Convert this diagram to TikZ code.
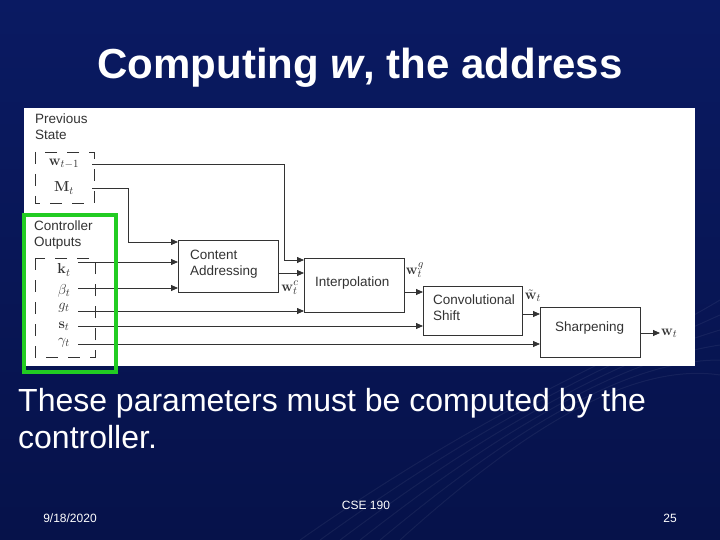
\documentclass[tikz,border=0pt]{standalone}
\usepackage[no-math]{fontspec}
\setmainfont{Liberation Sans}
\usetikzlibrary{arrows.meta}
\definecolor{navy}{HTML}{0A1A62}
\definecolor{navyd}{HTML}{06124A}
\definecolor{grn}{HTML}{22CC22}
\definecolor{ln}{HTML}{333333}
\begin{document}
\begin{tikzpicture}[x=1pt,y=-1pt,
  blk/.style={draw=ln,line width=0.9pt,fill=white,anchor=north west,inner sep=0pt},
  lbl/.style={font=\fontsize{13.5}{16}\selectfont,text=ln,align=left,anchor=west,inner sep=0pt},
  arr/.style={draw=ln,line width=0.8pt,-{Triangle[length=7pt,width=6pt]}},
  dbox/.style={draw=ln,line width=0.8pt,dash pattern=on 12pt off 10pt},
  ml/.style={text=ln,font=\fontsize{15}{17}\selectfont}]
\useasboundingbox (0,0) rectangle (720,540);
\shade[top color=navy,bottom color=navyd] (0,0) rectangle (720,540);
\foreach \i in {0,...,5}{
  \draw[white,opacity=0.06,line width=1pt] (300+\i*20,540) .. controls (500,400+\i*10) and (620,360) .. (720,300+\i*15);
}
\node[text=white,font=\fontsize{42}{48}\selectfont\bfseries] (title) at (360,68) {Computing \textit{w}, the address};
% panel
\fill[white] (24,108) rectangle (695,366);
\node[lbl,anchor=north west] (prev) at (35,114) {Previous\\State};
\draw[dbox] (35,152) rectangle (94,203);
\node[ml] (wp) at (64,164) {$\mathbf{w}_{t-1}$};
\node[ml] (M) at (64,188) {$\mathbf{M}_t$};
\node[lbl,anchor=north west] (ctrl) at (34,221) {Controller\\Outputs};
\draw[dbox] (35,258) rectangle (95,357);
\node[ml] (k) at (64,270) {$\mathbf{k}_t$};
\node[ml] (b) at (64,291) {$\beta_t$};
\node[ml] (g) at (64,308) {$g_t$};
\node[ml] (s) at (64,326) {$\mathbf{s}_t$};
\node[ml] (ga) at (64,343) {$\gamma_t$};
% blocks
\node[blk,minimum width=100pt,minimum height=52pt] (ca) at (178,240) {};
\node[lbl] at (190,264) {Content\\Addressing};
\node[blk,minimum width=100pt,minimum height=54pt] (ip) at (304,258) {};
\node[lbl] at (315,283) {Interpolation};
\node[blk,minimum width=99pt,minimum height=49pt] (cs) at (423,286) {};
\node[lbl] at (433,308) {Convolutional\\Shift};
\node[blk,minimum width=100pt,minimum height=50pt] (sh) at (540,307) {};
\node[lbl] at (555,328) {Sharpening};
% connectors
\coordinate (wpE) at (92,164); \coordinate (ME) at (92,188);
\draw[arr] (wpE) -- (284,164) -- (284,260) -- (ip.north west |- 0,260);
\draw[arr] (ME) -- (128,188) -- (128,242) -- (ca.north west |- 0,242);
\draw[arr] (78,262) -- (ca.west |- 0,262);
\draw[arr] (78,288) -- (ca.west |- 0,288);
\draw[arr] (ca.east |- 0,273) -- (ip.west |- 0,273);
\draw[arr] (78,311) -- (ip.west |- 0,311);
\draw[arr] (ip.east |- 0,292) -- (cs.west |- 0,292);
\draw[arr] (78,326) -- (cs.west |- 0,326);
\draw[arr] (cs.east |- 0,314) -- (sh.west |- 0,314);
\draw[arr] (78,344) -- (sh.west |- 0,344);
\coordinate (out) at (660,333);
\draw[arr] (sh.east |- 0,333) -- (out);
\node[ml,inner sep=0pt] (wc) at (290,288) {$\mathbf{w}^c_t$};
\node[ml,inner sep=0pt] (wg) at (415,270) {$\mathbf{w}^g_t$};
\node[ml,inner sep=0pt] (wt) at (533,296) {$\tilde{\mathbf{w}}_t$};
\node[ml,anchor=west,inner sep=1pt] (w) at (out) {$\mathbf{w}_t$};
% green
\draw[grn,line width=4pt] (24,215) rectangle (116,372);
% text
\node[text=white,anchor=north west,align=left,inner sep=0pt,font=\fontsize{32}{37}\selectfont] (body) at (18,388) {These parameters must be computed by the\\controller.};
\node[text=white,font=\fontsize{12}{14}\selectfont] (d) at (70,518) {9/18/2020};
\node[text=white,font=\fontsize{12}{14}\selectfont] (c) at (366,505) {CSE 190};
\node[text=white,font=\fontsize{12}{14}\selectfont] (n) at (670,518) {25};
\end{tikzpicture}
\end{document}
